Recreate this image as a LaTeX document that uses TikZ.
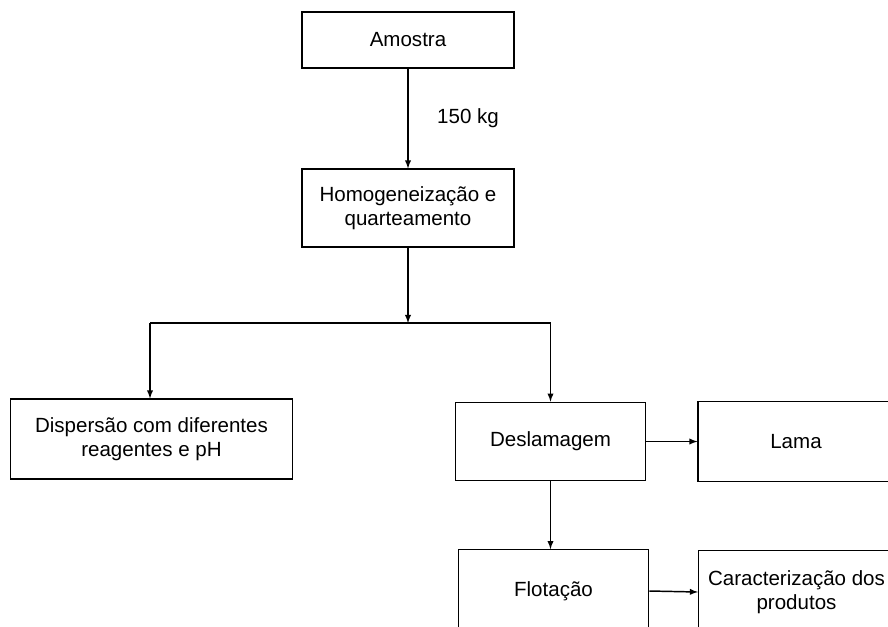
\documentclass[tikz,border=0pt]{standalone}
\usepackage{fontspec}
\setmainfont{Liberation Sans}
\usepackage{tikz}
\usetikzlibrary{positioning}

\begin{document}
\begin{tikzpicture}[x=0.75pt, y=-0.75pt, >=latex,
    box/.style={draw, line width=0.8pt, align=center, inner sep=2pt,
                font=\fontsize{15.4}{18}\selectfont},
    conn/.style={line width=1.1pt}]
                \useasboundingbox (0,0) rectangle (888,626);
                \clip (0,0) rectangle (888,626);
                \node (amostra) [box, minimum width=159pt, minimum height=42pt] at (408,40) {Amostra};
                \node (homog) [box, minimum width=159pt, minimum height=58.5pt] at (408,208) {Homogeneização e\\quarteamento};
                \node (disp) [box, minimum width=212pt, minimum height=60pt] at (151.5,439) {Dispersão com diferentes\\reagentes e pH};
                \node (desl) [box, minimum width=143pt, minimum height=59pt] at (550.5,441.5) {Deslamagem};
                \node (lama) [box, minimum width=147pt, minimum height=60pt] at (796,441.5) {Lama};
                \node (flot) [box, minimum width=143pt, minimum height=62pt] at (553.5,591) {Flotação};
                \node (carac) [box, minimum width=147pt, minimum height=62pt] at (796.5,592) {Caracterização dos\\produtos};
                \coordinate (split) at (408,323);
                \coordinate (splitL) at (150,323);
                \coordinate (splitR) at (550.5,323);
                \draw[conn, ->] (amostra.south) -- node[right=18pt, font=\fontsize{15.4}{18}\selectfont] {150 kg} (homog.north);
                \draw[conn, ->] (homog.south) -- (split);
                \draw[conn] (splitL) -- (splitR);
                \draw[conn, ->] (splitL) -- (splitL |- disp.north);
                \draw[conn, ->] (splitR) -- (desl.north);
                \draw[conn, ->] (desl.east) -- (lama.west);
                \draw[conn, ->] (desl.south) -- (desl.south |- flot.north);
                \draw[conn, ->] (flot.east) -- (carac.west);
            \end{tikzpicture}
\end{document}
